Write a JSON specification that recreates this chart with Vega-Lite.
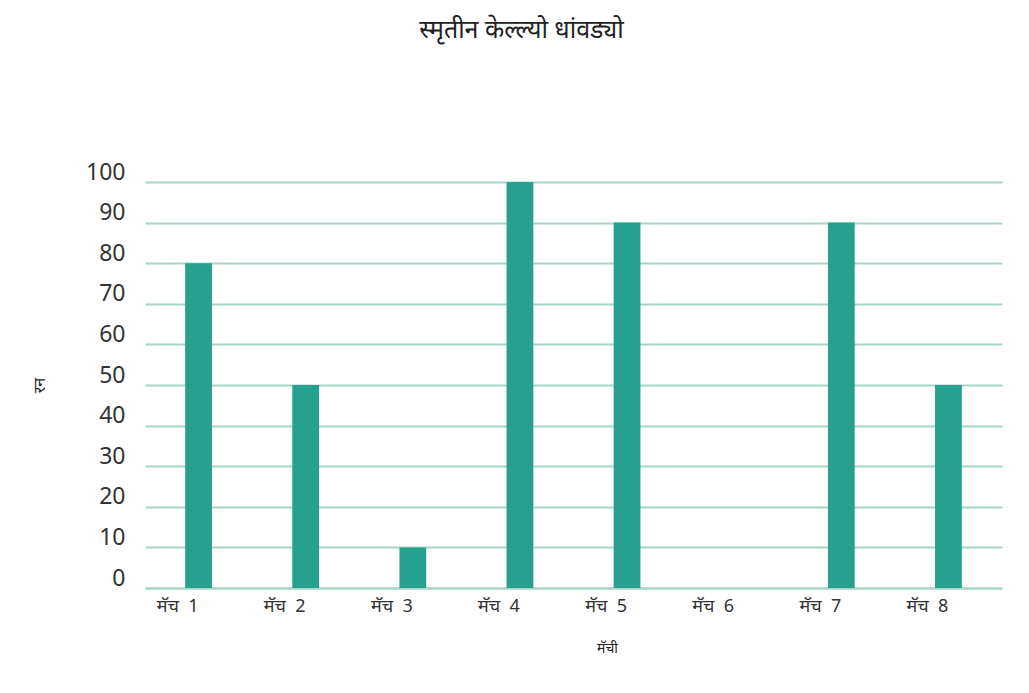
{
  "$schema": "https://vega.github.io/schema/vega-lite/v6.json",
  "width": 857,
  "height": 406,
  "autosize": {"type": "none"},
  "padding": {"left": 145, "top": 182, "right": 27, "bottom": 105},
  "background": "white",
  "config": {
    "font": "Noto Sans",
    "view": {"stroke": null}
  },
  "title": {
    "text": "स्मृतीन केल्ल्यो धांवड्यो",
    "fontSize": 25,
    "fontWeight": "normal",
    "color": "#222222",
    "anchor": "middle",
    "dx": -52,
    "offset": 118
  },
  "data": {
    "values": [
      {"match": "मॅच\u00a0\u00a01", "runs": 80},
      {"match": "मॅच\u00a0\u00a02", "runs": 50},
      {"match": "मॅच\u00a0\u00a03", "runs": 10},
      {"match": "मॅच\u00a0\u00a04", "runs": 100},
      {"match": "मॅच\u00a0\u00a05", "runs": 90},
      {"match": "मॅच\u00a0\u00a06", "runs": 0},
      {"match": "मॅच\u00a0\u00a07", "runs": 90},
      {"match": "मॅच\u00a0\u00a08", "runs": 50}
    ]
  },
  "mark": {"type": "bar", "color": "#25a18e"},
  "encoding": {
    "x": {
      "field": "match",
      "type": "nominal",
      "sort": null,
      "scale": {"paddingInner": 0.75, "paddingOuter": 0.375},
      "axis": {
        "title": "मॅची",
        "titleFontSize": 14,
        "titleFontWeight": "normal",
        "titleColor": "#222222",
        "titleX": 462,
        "titlePadding": 26,
        "labelAngle": 0,
        "labelFontSize": 18,
        "labelColor": "#333333",
        "labelOffset": -21,
        "labelPadding": 9,
        "ticks": false,
        "domain": true,
        "domainColor": "#a8d5c8",
        "domainWidth": 2
      }
    },
    "y": {
      "field": "runs",
      "type": "quantitative",
      "scale": {"domain": [0, 100], "nice": false},
      "axis": {
        "title": "रन",
        "titleFontSize": 16,
        "titleFontWeight": "normal",
        "titleColor": "#222222",
        "titleX": -98,
        "values": [0, 10, 20, 30, 40, 50, 60, 70, 80, 90, 100],
        "labelFontSize": 23,
        "labelColor": "#333333",
        "labelOffset": -10,
        "labelPadding": 20,
        "ticks": false,
        "domain": false,
        "grid": true,
        "gridColor": "#a8d5c8",
        "gridWidth": 2
      }
    }
  }
}
